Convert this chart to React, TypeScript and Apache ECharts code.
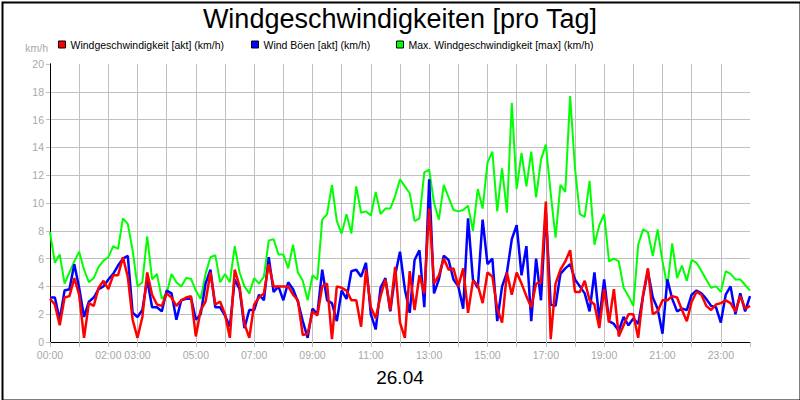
import React, { useEffect, useRef } from 'react';
import * as echarts from 'echarts';

const TITLE = 'Windgeschwindigkeiten [pro Tag]';
const DATE_LABEL = '26.04';
const UNIT = 'km/h';
const NAME_AKT = 'Windgeschwindigkeit [akt] (km/h)';
const NAME_BOEEN = 'Wind Böen [akt] (km/h)';
const NAME_MAX = 'Max. Windgeschwindigkeit [max] (km/h)';

const START_HOUR = 0;
const STEP_MINUTES = 10;
const X_MIN = 0;
const X_MAX = 24;
const X_STEP = 1;
const Y_MIN = 0;
const Y_MAX = 20;
const Y_STEP = 2;
const xLabelHours = [0, 2, 3, 5, 7, 9, 11, 13, 15, 17, 19, 21, 23];

const windMax = [
  7.9, 5.7, 6.3, 4.2, 5.0, 5.8, 6.5, 5.2, 4.3, 4.6, 5.4, 5.85, 6.1, 6.9, 6.7, 8.9, 8.5, 6.6, 4.0, 4.3,
  7.6, 4.5, 4.9, 3.1, 3.5, 4.9, 4.3, 4.0, 4.6, 4.55, 3.7, 3.1, 4.9, 6.1, 6.25, 4.3, 4.9, 4.3, 6.9, 5.0,
  4.0, 3.5, 4.6, 4.2, 4.7, 7.3, 7.4, 6.3, 6.3, 5.3, 7.0, 5.0, 4.4, 3.0, 4.8, 4.5, 8.8, 9.2, 11.3, 8.7,
  7.8, 9.2, 7.8, 11.2, 9.3, 9.4, 9.1, 10.8, 9.2, 9.6, 9.6, 10.5, 11.7, 11.2, 10.7, 8.7, 8.9, 12.2, 12.4, 10.0,
  8.8, 11.3, 10.4, 9.5, 9.4, 9.5, 9.8, 8.0, 11.0, 9.6, 12.9, 13.7, 9.4, 12.5, 9.3, 17.2, 11.0, 13.6, 11.2, 13.7,
  10.4, 13.1, 14.2, 10.7, 7.5, 11.3, 10.8, 17.7, 12.5, 9.2, 9.0, 11.6, 7.0, 8.4, 9.2, 5.8, 6.0, 5.8, 3.9, 3.3,
  2.6, 7.0, 8.1, 7.9, 6.2, 8.1, 5.8, 4.0, 7.1, 4.6, 5.5, 4.4, 5.9, 5.7, 5.1, 4.5, 3.9, 4.0, 3.6, 5.1,
  4.9, 4.5, 4.5, 4.1, 3.7,
];

const boeenAkt = [
  3.2, 3.2, 1.6, 3.7, 3.8, 5.6, 3.9, 1.8, 2.9, 3.2, 3.8, 4.0, 4.5, 4.9, 5.5, 6.0, 6.2, 2.1, 1.8, 2.3,
  4.5, 2.5, 2.5, 2.2, 3.7, 3.5, 1.6, 3.0, 3.1, 3.2, 1.6, 2.0, 4.2, 5.2, 2.5, 2.5, 1.9, 1.1, 4.5, 3.8,
  1.0, 2.3, 2.3, 3.4, 3.0, 6.1, 3.6, 4.0, 3.0, 4.3, 3.8, 2.9, 1.5, 0.3, 2.4, 2.0, 5.2, 3.0, 2.8, 1.5,
  3.7, 3.1, 5.1, 5.2, 4.7, 5.7, 2.0, 0.9, 3.9, 4.6, 2.2, 4.8, 6.5, 3.8, 2.1, 5.9, 6.6, 2.5, 11.7, 3.5,
  4.5, 6.2, 5.9, 4.5, 4.0, 2.4, 8.9, 4.5, 3.9, 8.8, 5.6, 6.0, 1.5, 4.0, 5.0, 7.4, 8.4, 4.8, 6.9, 1.5,
  6.0, 3.0, 9.4, 2.7, 2.6, 4.9, 5.3, 5.6, 4.5, 4.0, 3.5, 2.2, 5.0, 1.6, 4.5, 1.5, 1.3, 0.8, 1.8, 1.2,
  1.7, 1.3, 3.3, 5.1, 3.2, 2.4, 0.6, 4.5, 3.1, 2.2, 2.4, 2.3, 3.4, 3.7, 3.5, 3.1, 2.6, 2.5, 1.4, 3.4,
  4.0, 2.0, 3.5, 2.2, 3.3,
];

const windAkt = [
  3.1, 2.7, 1.2, 3.2, 3.3, 4.6, 3.4, 0.3, 2.8, 2.6, 3.9, 4.4, 3.8, 4.8, 4.8, 6.1, 4.7, 1.6, 0.3, 1.8,
  5.0, 3.4, 2.7, 2.6, 3.5, 3.2, 2.6, 3.0, 3.2, 3.3, 0.4, 2.3, 2.9, 5.0, 2.7, 2.9, 2.0, 0.3, 5.2, 4.0,
  1.3, 0.3, 2.7, 3.2, 3.5, 5.6, 4.0, 4.0, 4.0, 4.0, 3.4, 3.0, 0.5, 0.6, 2.2, 1.9, 4.0, 4.2, 0.2, 4.0,
  3.9, 3.7, 3.0, 3.0, 1.1, 5.2, 2.5, 1.7, 3.3, 4.5, 2.3, 5.4, 1.4, 0.3, 5.1, 2.3, 4.8, 3.5, 9.6, 4.2,
  4.8, 6.0, 5.2, 5.3, 4.0, 5.3, 2.1, 4.4, 4.1, 2.8, 5.0, 4.7, 2.4, 1.4, 5.0, 3.4, 5.0, 4.2, 3.3, 2.5,
  4.2, 4.3, 10.1, 0.2, 4.2, 5.2, 5.8, 6.6, 3.6, 3.6, 4.4, 3.0, 2.7, 1.0, 3.8, 1.4, 3.8, 0.4, 1.2, 2.0,
  2.0, 0.3, 3.4, 5.3, 2.0, 2.2, 3.0, 3.0, 3.3, 3.2, 2.3, 1.5, 2.9, 3.6, 3.4, 2.6, 2.3, 2.7, 2.8, 3.0,
  2.8, 2.2, 3.3, 2.4, 2.6,
];

const FONT = "'Liberation Sans', Arial, Helvetica, sans-serif";
const GRAY_TEXT = '#a8a8a8';
const GRID_GRAY = '#c0c0c0';

function pad2(n: number) {
  return n < 10 ? '0' + n : String(n);
}

export default function App() {
  const ref = useRef<HTMLDivElement>(null);

  useEffect(() => {
    if (!ref.current) return;
    const chart = echarts.init(ref.current, undefined, { renderer: 'svg' });
    const toPairs = (vals: number[]) =>
      vals.map((v, i) => [START_HOUR + (i * STEP_MINUTES) / 60, v]);

    const legendBase = {
      top: 39,
      padding: 0,
      icon: 'rect',
      itemWidth: 7,
      itemHeight: 7,
      itemStyle: { borderColor: '#000', borderWidth: 1 },
      textStyle: { fontSize: 10.5, color: '#000', fontFamily: FONT },
      selectedMode: false,
    };

    const option: any = {
      animation: false,
      backgroundColor: '#fff',
      textStyle: { fontFamily: FONT },
      title: {
        text: TITLE,
        left: 'center',
        top: 0,
        textStyle: { fontSize: 27, fontWeight: 'normal', color: '#000', fontFamily: FONT },
      },
      legend: [
        { ...legendBase, left: 58, data: [NAME_AKT] },
        { ...legendBase, left: 251, data: [NAME_BOEEN] },
        { ...legendBase, left: 396, data: [NAME_MAX] },
      ],
      grid: { left: 50, right: 50, top: 64, bottom: 58, containLabel: false },
      xAxis: [
        {
          type: 'value',
          position: 'bottom',
          min: X_MIN,
          max: X_MAX,
          interval: X_STEP,
          axisLine: { show: true, lineStyle: { color: '#000', width: 1 } },
          axisTick: { show: true, length: 5, lineStyle: { color: GRID_GRAY } },
          axisLabel: {
            color: GRAY_TEXT,
            fontSize: 10.5,
            margin: 7,
            fontFamily: FONT,
            formatter: (v: number) => (xLabelHours.indexOf(Math.round(v)) >= 0 && Math.abs(v - Math.round(v)) < 1e-6 ? pad2(Math.round(v)) + ':00' : ''),
          },
          splitLine: { show: true, showMinLine: false, showMaxLine: false, lineStyle: { color: GRID_GRAY, width: 1 } },
        },
        {
          type: 'value',
          position: 'top',
          min: X_MIN,
          max: X_MAX,
          axisLine: { show: true, lineStyle: { color: '#000', width: 1 } },
          axisTick: { show: false },
          axisLabel: { show: false },
          splitLine: { show: false },
        },
      ],
      yAxis: [
        {
          type: 'value',
          position: 'left',
          min: Y_MIN,
          max: Y_MAX,
          interval: Y_STEP,
          name: UNIT,
          nameLocation: 'end',
          nameGap: 11,
          nameTextStyle: { color: GRAY_TEXT, fontSize: 10.5, align: 'right', padding: [0, 2, 0, 0], fontFamily: FONT },
          axisLine: { show: true, lineStyle: { color: '#000', width: 1 } },
          axisTick: { show: true, length: 4, lineStyle: { color: GRID_GRAY } },
          axisLabel: { color: GRAY_TEXT, fontSize: 10.5, margin: 6, fontFamily: FONT },
          splitLine: { show: true, showMinLine: false, showMaxLine: false, lineStyle: { color: GRID_GRAY, width: 1 } },
        },
        {
          type: 'value',
          position: 'right',
          min: Y_MIN,
          max: Y_MAX,
          axisLine: { show: true, lineStyle: { color: '#000', width: 1 } },
          axisTick: { show: false },
          axisLabel: { show: false },
          splitLine: { show: false },
        },
      ],
      graphic: [
        {
          type: 'rect',
          left: 0,
          top: 0,
          shape: { x: 1, y: 1, width: 798, height: 398 },
          style: { fill: 'none', stroke: '#000', lineWidth: 2 },
          silent: true,
          z: 100,
        },
        {
          type: 'text',
          left: 'center',
          top: 368,
          style: { text: DATE_LABEL, fontSize: 19, fill: '#000', fontFamily: FONT },
        },
      ],
      series: [
        {
          name: NAME_MAX,
          type: 'line',
          data: toPairs(windMax),
          showSymbol: false,
          symbol: 'none',
          color: '#00ff00',
          lineStyle: { color: '#00ff00', width: 2 },
          z: 2,
        },
        {
          name: NAME_BOEEN,
          type: 'line',
          data: toPairs(boeenAkt),
          showSymbol: false,
          symbol: 'none',
          color: '#0000ff',
          lineStyle: { color: '#0000ff', width: 2.5 },
          z: 3,
        },
        {
          name: NAME_AKT,
          type: 'line',
          data: toPairs(windAkt),
          showSymbol: false,
          symbol: 'none',
          color: '#ff0000',
          lineStyle: { color: '#ff0000', width: 2.5 },
          z: 4,
        },
      ],
    };

    chart.setOption(option);
    return () => chart.dispose();
  }, []);

  return (
    <div
      ref={ref}
      style={{ position: 'fixed', left: 0, top: 0, width: 800, height: 400, background: '#fff' }}
    />
  );
}
